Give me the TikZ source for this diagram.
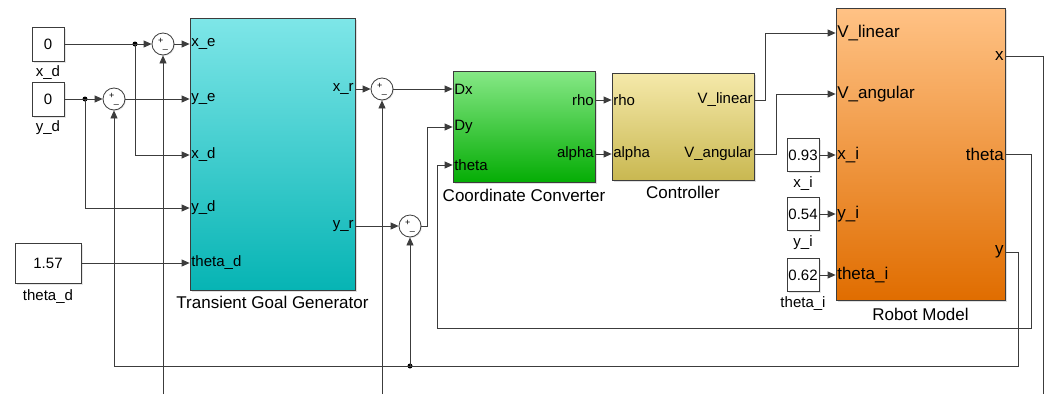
\documentclass[tikz,border=0pt]{standalone}
\usepackage{fontspec}
\setmainfont{Liberation Sans}
\usepackage{tikz}
\usepackage{xcolor}
\usetikzlibrary{arrows.meta, shadows, positioning}

\definecolor{tggtop}{HTML}{7EE6E8}
\definecolor{tggbot}{HTML}{06B4B4}
\definecolor{cnvtop}{HTML}{86E886}
\definecolor{cnvbot}{HTML}{05AD05}
\definecolor{ctltop}{HTML}{F5E9AA}
\definecolor{ctlbot}{HTML}{C9B851}
\definecolor{robtop}{HTML}{FFC285}
\definecolor{robbot}{HTML}{E06D00}
\definecolor{wirecol}{HTML}{3C3C3C}

\newcommand{\inport}[4]{% name, block, y, text
  \coordinate (#1) at (#2.west |- 0,#3);
  \node[port, anchor=west] (#1-lbl) at (#1) {#4};}
\newcommand{\outport}[4]{%
  \coordinate (#1) at (#2.east |- 0,#3);
  \node[port, anchor=east] (#1-lbl) at (#1) {#4};}
\newcommand{\sumsigns}{\raisebox{1.5pt}{+}\kern-0.5pt\raisebox{-3.5pt}{\_}}

\begin{document}
\begin{tikzpicture}[
      x=1pt, y=-1pt,
      wire/.style={draw=wirecol, line width=0.8pt},
      sig/.style={wire, -{Triangle[length=8pt, width=7pt]}},
      block/.style={draw=wirecol, line width=0.8pt, inner sep=0pt,
        drop shadow={opacity=0.25, shadow xshift=1.5pt, shadow yshift=-1.5pt}},
      const/.style={draw=wirecol, line width=0.8pt, fill=white, inner sep=0pt,
        font=\fontsize{15}{18}\selectfont,
        drop shadow={opacity=0.2, shadow xshift=1.5pt, shadow yshift=-1.5pt}},
      sumblk/.style={circle, draw=wirecol, line width=0.8pt, fill=white,
        minimum size=22pt, inner sep=0pt, font=\fontsize{9}{9}\selectfont,
        drop shadow={opacity=0.2, shadow xshift=1pt, shadow yshift=-1pt}},
      dot/.style={circle, fill=black, inner sep=0pt, minimum size=5pt},
      port/.style={inner sep=1.5pt, font=\fontsize{15}{18}\selectfont},
      bigport/.style={inner sep=1.5pt, font=\fontsize{17}{20}\selectfont},
      title/.style={inner sep=0pt, font=\fontsize{17}{20}\selectfont},
      clabel/.style={inner sep=0pt, font=\fontsize{15}{18}\selectfont}
    ]
  \useasboundingbox (0,0) rectangle (1051,394);

  % blocks
  \node[block, top color=tggtop, bottom color=tggbot,
        minimum width=165pt, minimum height=272pt] (tgg) at (272.5,154) {};
  \node[block, top color=cnvtop, bottom color=cnvbot,
        minimum width=142pt, minimum height=111pt] (conv) at (524,126.5) {};
  \node[block, top color=ctltop, bottom color=ctlbot,
        minimum width=142pt, minimum height=107pt] (ctrl) at (683,126.5) {};
  \node[block, top color=robtop, bottom color=robbot,
        minimum width=169pt, minimum height=292pt] (robot) at (920.5,154) {};

  \node[title] (tgg-title) at (272.5,302) {Transient Goal Generator};
  \node[title] (conv-title) at (524,195) {Coordinate Converter};
  \node[title] (ctrl-title) at (683,192) {Controller};
  \node[title] (robot-title) at (920.5,314) {Robot Model};

  % ports
  \inport{tgg-xe}{tgg}{44}{x\_e}
  \inport{tgg-ye}{tgg}{99}{y\_e}
  \inport{tgg-xd}{tgg}{155}{x\_d}
  \inport{tgg-yd}{tgg}{208}{y\_d}
  \inport{tgg-th}{tgg}{263}{theta\_d}
  \outport{tgg-xr}{tgg}{89}{x\_r}
  \outport{tgg-yr}{tgg}{226}{y\_r}

  \inport{conv-dx}{conv}{89}{Dx}
  \inport{conv-dy}{conv}{127}{Dy}
  \inport{conv-th}{conv}{165}{theta}
  \outport{conv-rho}{conv}{100}{rho}
  \outport{conv-al}{conv}{154}{alpha}

  \inport{ctrl-rho}{ctrl}{100}{rho}
  \inport{ctrl-al}{ctrl}{154}{alpha}
  \outport{ctrl-vl}{ctrl}{100}{V\_linear}
  \outport{ctrl-va}{ctrl}{154}{V\_angular}

  \tikzset{port/.style={bigport}}
  \inport{rob-vl}{robot}{33}{V\_linear}
  \inport{rob-va}{robot}{94}{V\_angular}
  \inport{rob-xi}{robot}{155}{x\_i}
  \inport{rob-yi}{robot}{214}{y\_i}
  \inport{rob-th}{robot}{275}{theta\_i}
  \outport{rob-x}{robot}{56}{x}
  \outport{rob-th-out}{robot}{154}{theta}
  \outport{rob-y}{robot}{252}{y}

  % constants
  \node[const, minimum width=32pt, minimum height=34pt] (cxd) at (48,44) {0};
  \node[const, minimum width=32pt, minimum height=34pt] (cyd) at (48,99) {0};
  \node[const, minimum width=66pt, minimum height=40pt] (cthd) at (48,263) {1.57};
  \node[const, minimum width=32pt, minimum height=33pt] (cxi) at (803,155) {0.93};
  \node[const, minimum width=32pt, minimum height=33pt] (cyi) at (803,214) {0.54};
  \node[const, minimum width=32pt, minimum height=33pt] (cthi) at (803,275) {0.62};
  \node[clabel] (cxd-lbl) at (48,73) {x\_d};
  \node[clabel] (cyd-lbl) at (48,128) {y\_d};
  \node[clabel] (cthd-lbl) at (48,297) {theta\_d};
  \node[clabel] (cxi-lbl) at (803,184) {x\_i};
  \node[clabel] (cyi-lbl) at (803,243) {y\_i};
  \node[clabel] (cthi-lbl) at (803,304) {theta\_i};

  % sums
  \node[sumblk] (sxe) at (163,44) {\sumsigns};
  \node[sumblk] (sye) at (114,99) {\sumsigns};
  \node[sumblk] (sxr) at (382,89) {\sumsigns};
  \node[sumblk] (syr) at (410,226) {\sumsigns};

  % branch points and free ends
  \node[dot] (bxd) at (135,44) {};
  \node[dot] (byd) at (85,99) {};
  \node[dot] (byfb) at (410,366) {};
  \coordinate (xfb1) at (163,394);
  \coordinate (xfb2) at (382,394);
  \coordinate (xfb3) at (1043,394);

  % goal inputs
  \draw[wire] (cxd.east) -- (bxd.center);
  \draw[sig] (bxd.center) -- (sxe.west);
  \draw[sig] (bxd.center) |- (tgg-xd);
  \draw[sig] (sxe.east) -- (tgg-xe);
  \draw[wire] (cyd.east) -- (byd.center);
  \draw[sig] (byd.center) -- (sye.west);
  \draw[sig] (byd.center) |- (tgg-yd);
  \draw[sig] (sye.east) -- (tgg-ye);
  \draw[sig] (cthd.east) -- (tgg-th);

  % errors to converter
  \draw[sig] (tgg-xr) -- (sxr.west);
  \draw[sig] (sxr.east) -- (conv-dx);
  \draw[sig] (tgg-yr) -- (syr.west);
  \draw[sig] (syr.east) -- (427,226) |- (conv-dy);
  \draw[sig] (conv-rho) -- (ctrl-rho);
  \draw[sig] (conv-al) -- (ctrl-al);
  \draw[sig] (ctrl-vl) -- (765,100) |- (rob-vl);
  \draw[sig] (ctrl-va) -- (776,154) |- (rob-va);

  % initial state
  \draw[sig] (cxi.east) -- (rob-xi);
  \draw[sig] (cyi.east) -- (rob-yi);
  \draw[sig] (cthi.east) -- (rob-th);

  % feedback
  \draw[wire] (rob-x) -| (xfb3);
  \draw[sig] (xfb1) -- (sxe.south);
  \draw[sig] (xfb2) -- (sxr.south);
  \draw[sig] (rob-th-out) -- (1031,154) -- (1031,328) -- (437,328) |- (conv-th);
  \draw[wire] (rob-y) -- (1018,252) |- (byfb.center);
  \draw[sig] (byfb.center) -- (114,366) -- (sye.south);
  \draw[sig] (byfb.center) -- (syr.south);
\end{tikzpicture}
\end{document}
